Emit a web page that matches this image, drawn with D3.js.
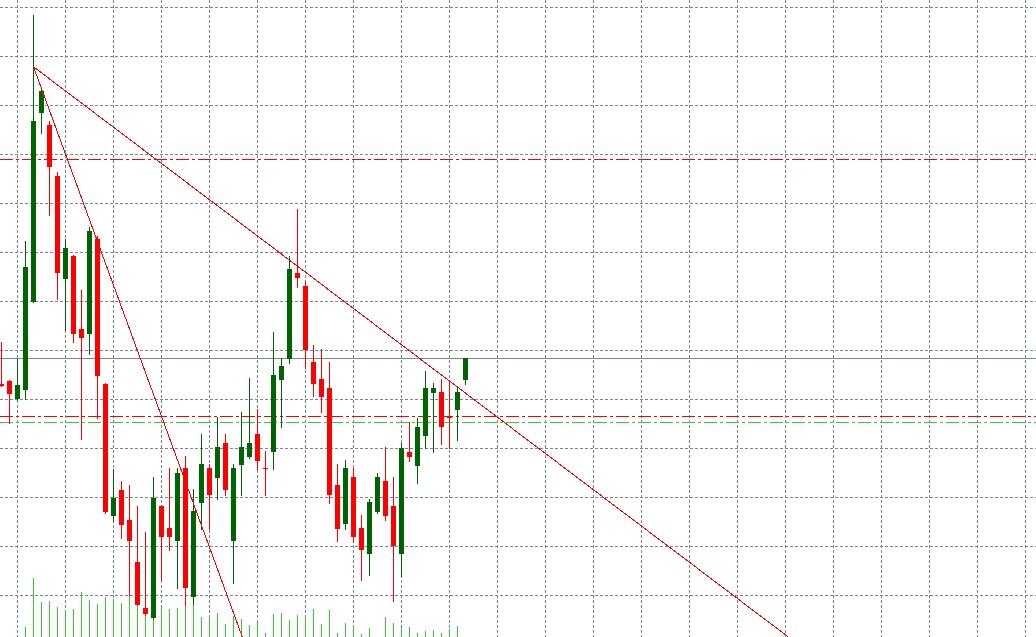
<!DOCTYPE html>
<html><head><meta charset="utf-8">
<script src="https://cdn.jsdelivr.net/npm/d3@7/dist/d3.min.js"></script>
<style>html,body{margin:0;padding:0;background:#fff;overflow:hidden}</style>
</head><body><svg id="c" width="1036" height="637"></svg>
<script>
// ---- data (price units are arbitrary; grid step = 10) ----
const opens  = [83.0,83.7,80.0,81.8,99.8,138.4,135.9,125.5,104.5,109.2,94.3,93.3,112.6,83.1,56.1,61.4,55.3,46.7,37.3,35.3,58.2,53.7,51.0,65.9,39.6,58.8,65.9,63.9,71.0,51.0,66.5,68.2,72.9,65.9,69.2,83.9,88.2,105.7,103.1,87.6,84.1,82.2,62.4,54.5,64.1,53.7,48.4,56.9,63.3,58.2,48.4,69.2,66.3,72.4,81.2,81.4,76.3,77.8,83.9];
const highs  = [91.6,83.9,88.2,112.2,158.4,143.7,136.7,126.3,112.6,109.4,102.2,115.1,113.3,83.3,65.7,63.3,62.4,58.2,52.9,64.1,58.3,65.9,65.9,68.4,61.6,72.9,66.7,76.3,72.9,66.7,77.3,84.3,78.0,69.4,93.7,88.4,109.2,118.8,104.1,91.0,90.2,87.6,66.7,67.6,65.9,56.3,59.6,64.9,70.2,64.1,71.0,75.3,76.1,85.7,83.3,84.1,83.5,82.2,88.4];
const lows   = [82.6,75.1,79.8,80.0,99.7,134.3,117.6,100.4,94.1,91.6,71.8,89.2,76.1,56.8,55.1,51.6,40.0,37.9,36.0,35.2,43.1,49.2,41.4,38.0,38.2,53.5,53.5,59.6,60.4,42.4,60.4,68.0,65.7,60.4,65.7,74.3,87.3,102.9,86.3,80.6,77.3,58.8,51.0,53.5,50.8,43.1,44.1,56.8,55.3,38.8,43.9,67.3,62.9,70.0,69.2,70.8,70.0,71.6,83.1];
const closes = [82.7,81.0,82.9,106.9,136.7,142.9,127.3,105.7,110.8,93.3,92.4,114.3,84.7,56.9,59.8,54.3,51.0,38.0,36.1,59.8,51.8,51.8,64.9,41.4,57.1,66.7,60.4,70.2,61.4,65.9,70.2,71.0,67.3,65.7,84.9,86.7,106.5,104.7,90.0,83.1,80.4,60.4,53.5,65.9,51.8,49.2,59.0,64.1,56.1,50.0,70.0,68.2,74.3,82.2,82.2,74.3,76.1,81.4,88.3];
const volumes = [0,0,0,100,590,350,360,300,270,280,450,370,330,400,380,340,420,350,260,320,310,280,290,310,330,200,200,240,130,210,180,120,140,40,230,240,170,220,220,280,130,270,40,140,110,30,90,0,200,140,90,100,40,60,70,40,80,110,0];
const gridPrices = [160,150,140,130,120,110,100,90,80,70,60,50,40];
const resistanceLevels = [128.9, 76.6];
const supportLevels = [75.4];
const trendLineA = [[4,147.8],[40,103.4]];
const trendLineB = [[4,147.8],[30,31.9]];

// ---- scales ----
const W = 1036, H = 637;
const nBars = opens.length;
const x = d3.scaleLinear().domain([0, 1]).range([1.5, 9.5]);
const y = d3.scaleLinear().domain([160, 40]).range([7, 595]);
const yv = d3.scaleLinear().domain([0, 1000]).range([H, H - 100]);
const gridBars = d3.range(2, 130, 6);

const svg = d3.select('#c');
const crisp = v => Math.round(v) + 0.5;

const GRID = '#778899', BULL = '#006400', BEAR = '#ff0000', VOL = '#32cd32';

// grid
const g = svg.append('g').attr('shape-rendering','crispEdges');
g.selectAll('.hg').data(gridPrices).join('line')
  .attr('x1',0).attr('x2',W).attr('y1',d=>crisp(y(d))).attr('y2',d=>crisp(y(d)))
  .attr('stroke',GRID).attr('stroke-dasharray','3,2');
g.selectAll('.vg').data(gridBars).join('line')
  .attr('y1',0).attr('y2',H).attr('x1',d=>x(d)).attr('x2',d=>x(d))
  .attr('stroke',GRID).attr('stroke-dasharray','3,2');

// level lines
const lv = svg.append('g').attr('shape-rendering','crispEdges');
lv.selectAll('.r').data(resistanceLevels).join('line')
  .attr('x1',0).attr('x2',W).attr('y1',d=>crisp(y(d))).attr('y2',d=>crisp(y(d)))
  .attr('stroke','#ff0000').attr('stroke-dasharray','13,3,3,3');
lv.selectAll('.s').data(supportLevels).join('line')
  .attr('x1',0).attr('x2',W).attr('y1',d=>crisp(y(d))).attr('y2',d=>crisp(y(d)))
  .attr('stroke','#32cd32').attr('stroke-dasharray','13,3,3,3');
// bid line at last close
const bid = closes[nBars-1];
lv.append('line').attr('x1',0).attr('x2',W).attr('y1',crisp(y(bid))).attr('y2',crisp(y(bid)))
  .attr('stroke',GRID);

const idx = d3.range(nBars);
// volumes
svg.append('g').attr('shape-rendering','crispEdges').selectAll('line').data(idx.filter(i=>volumes[i]>0)).join('line')
  .attr('x1',i=>x(i)).attr('x2',i=>x(i)).attr('y1',H).attr('y2',i=>Math.round(yv(volumes[i])))
  .attr('stroke',VOL);

// candles
const cg = svg.append('g').attr('shape-rendering','crispEdges');
const col = i => closes[i] >= opens[i] ? BULL : BEAR;
cg.selectAll('.w').data(idx).join('line')
  .attr('x1',i=>x(i)).attr('x2',i=>x(i))
  .attr('y1',i=>Math.round(y(highs[i]))).attr('y2',i=>Math.round(y(lows[i]))+1)
  .attr('stroke',col);
cg.selectAll('.b').data(idx).join('rect')
  .attr('x',i=>x(i)-2.5).attr('width',5)
  .attr('y',i=>Math.round(y(Math.max(opens[i],closes[i]))))
  .attr('height',i=>Math.max(1, Math.round(y(Math.min(opens[i],closes[i]))) - Math.round(y(Math.max(opens[i],closes[i])))))
  .attr('fill',col);

// trend lines (rays clipped to the chart)
svg.append('clipPath').attr('id','clip').append('rect').attr('width',W).attr('height',H);
const tl = svg.append('g').attr('clip-path','url(#clip)');
function ray(p){
  const [[i1,p1],[i2,p2]] = p;
  const s = (p2-p1)/(i2-i1);
  const iEnd = 200;
  return [[x(i1),y(p1)],[x(iEnd),y(p1 + s*(iEnd-i1))]];
}
[trendLineA, trendLineB].forEach(t=>{
  const pts = ray(t);
  tl.append('path').attr('d', d3.line()(pts)).attr('stroke','#ff0000').attr('fill','none')
    .attr('stroke-width',1).attr('shape-rendering','crispEdges');
});
</script></body></html>
